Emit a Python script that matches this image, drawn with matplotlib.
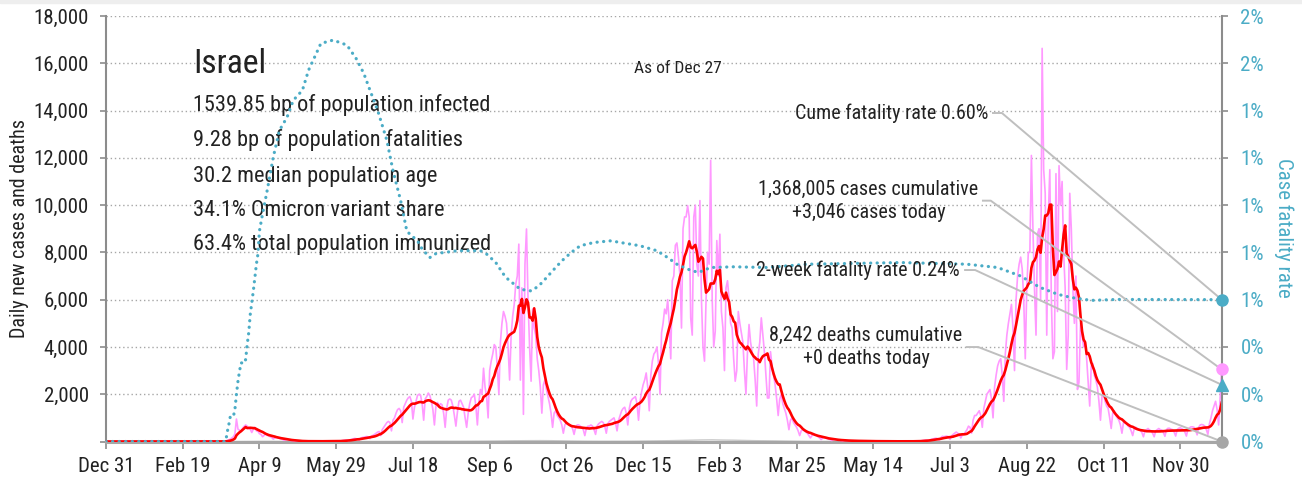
import numpy as np
import pandas as pd
import matplotlib
matplotlib.use("Agg")
import matplotlib.pyplot as plt
import matplotlib.dates as mdates
from matplotlib.ticker import FuncFormatter, PercentFormatter
from matplotlib.patches import Rectangle
from matplotlib import font_manager as fm

# ---------------------------------------------------------------- data
START_DATE = "2019-12-31"

# Daily new cases, one row per week (Tue .. Mon)
DAILY_CASES_BY_WEEK = [
    [0, 0, 0, 0, 0, 0, 0], [0, 0, 0, 0, 0, 0, 0], [0, 0, 0, 0, 0, 0, 0],
    [0, 0, 0, 0, 0, 0, 0], [0, 0, 0, 0, 0, 0, 0], [0, 0, 0, 0, 0, 0, 0],
    [0, 0, 0, 0, 0, 0, 0], [0, 0, 0, 0, 0, 0, 0], [0, 0, 0, 0, 0, 0, 0],
    [0, 0, 0, 0, 0, 0, 0], [0, 1, 2, 3, 2, 4, 6],
    [5, 20, 40, 70, 100, 150, 200],
    [320, 950, 520, 480, 430, 560, 640],
    [700, 650, 560, 520, 380, 520, 600],
    [450, 430, 330, 300, 200, 260, 330],
    [260, 240, 200, 170, 100, 150, 180],
    [150, 130, 110, 90, 50, 70, 90],
    [60, 50, 40, 30, 15, 25, 30],
    [20, 15, 15, 10, 5, 10, 15],
    [15, 10, 10, 8, 4, 10, 12],
    [15, 15, 12, 10, 5, 12, 15],
    [20, 20, 18, 15, 8, 20, 25],
    [40, 50, 60, 50, 30, 70, 90],
    [110, 130, 120, 100, 60, 140, 170],
    [180, 200, 210, 190, 120, 230, 260],
    [300, 350, 400, 420, 250, 500, 600],
    [700, 800, 850, 800, 450, 900, 1000],
    [1200, 1350, 1400, 1300, 800, 1450, 1600],
    [1750, 1850, 1900, 1700, 950, 1450, 1700],
    [1950, 2000, 1950, 1600, 900, 1800, 1900],
    [2050, 1950, 1700, 1350, 700, 1500, 1650],
    [1500, 1600, 1550, 1200, 600, 1400, 1750],
    [1800, 1750, 1500, 1100, 650, 1250, 1700],
    [1750, 1600, 1450, 1000, 600, 1200, 1600],
    [1850, 1900, 2000, 1500, 700, 1700, 2200],
    [2000, 3100, 2300, 1900, 1000, 3000, 3400],
    [3700, 4100, 4000, 3100, 2000, 4200, 5000],
    [5500, 5300, 5000, 4000, 2600, 4500, 5300],
    [5800, 6660, 7000, 8350, 2600, 6500, 1150],
    [7500, 8990, 6000, 4000, 2550, 5600, 4800],
    [4500, 3500, 3000, 2300, 1200, 2400, 2600],
    [2200, 1900, 1600, 1200, 600, 1200, 1300],
    [1100, 1000, 900, 700, 350, 700, 800],
    [750, 700, 650, 550, 300, 600, 700],
    [700, 650, 600, 500, 250, 550, 650],
    [650, 700, 650, 500, 300, 650, 750],
    [800, 850, 800, 650, 350, 750, 850],
    [900, 950, 1000, 800, 450, 900, 1100],
    [1300, 1400, 1450, 1200, 700, 1400, 1700],
    [1800, 1850, 1900, 1600, 900, 1700, 2100],
    [2400, 2600, 2900, 2300, 1300, 2800, 3400],
    [3700, 3800, 4000, 3300, 2000, 4600, 5000],
    [5600, 5400, 6000, 5000, 3500, 6800, 7000],
    [8300, 8400, 7800, 7000, 4800, 9000, 9500],
    [9500, 9980, 9500, 5230, 4500, 9500, 10000],
    [7500, 7000, 10190, 6000, 4000, 3400, 6000],
    [8000, 7500, 11890, 6000, 4000, 4670, 8500],
    [7000, 8770, 5500, 4800, 3000, 6500, 6800],
    [6000, 5000, 4800, 3500, 2550, 3000, 5500],
    [5000, 4600, 4200, 3000, 2000, 3800, 4950],
    [4200, 3800, 3500, 2600, 1500, 3700, 4200],
    [5230, 4500, 3800, 2800, 1840, 1840, 3800],
    [3200, 2800, 2400, 1800, 1100, 1800, 2000],
    [1600, 1400, 1200, 900, 500, 900, 1000],
    [800, 700, 600, 450, 250, 450, 500],
    [450, 400, 350, 250, 150, 250, 300],
    [280, 250, 200, 150, 80, 150, 170],
    [150, 120, 100, 80, 40, 80, 90],
    [70, 60, 50, 40, 20, 40, 50],
    [40, 35, 30, 25, 10, 25, 30],
    [30, 25, 20, 15, 8, 15, 20],
    [20, 15, 15, 10, 5, 10, 15],
    [15, 12, 10, 8, 4, 10, 12],
    [10, 8, 8, 6, 3, 8, 10],
    [10, 10, 8, 6, 3, 10, 12],
    [10, 12, 15, 15, 8, 20, 30],
    [40, 50, 60, 50, 30, 70, 100],
    [110, 130, 140, 110, 60, 160, 220],
    [200, 220, 230, 170, 90, 230, 300],
    [350, 400, 350, 300, 150, 280, 300],
    [400, 500, 650, 600, 350, 900, 1100],
    [1100, 1200, 1300, 1100, 600, 1400, 1700],
    [2000, 2100, 2200, 1800, 1000, 2300, 2800],
    [3200, 3400, 3500, 2800, 1700, 3700, 4500],
    [5000, 5400, 5800, 4800, 3000, 6000, 7000],
    [7500, 7800, 7300, 6000, 3500, 6500, 8000],
    [8000, 12100, 9000, 6500, 4500, 8800, 9000],
    [6000, 16630, 11500, 10500, 4500, 9500, 11500],
    [6000, 3500, 3800, 11330, 5500, 11670, 10000],
    [11000, 8000, 6500, 3050, 4500, 10500, 9000],
    [6500, 5000, 7000, 2200, 2500, 5000, 4500],
    [4000, 4200, 3500, 2500, 1500, 3200, 3300],
    [2800, 2600, 2300, 1700, 900, 1900, 2000],
    [1700, 1500, 1400, 1000, 550, 1200, 1300],
    [1100, 1000, 900, 700, 350, 800, 850],
    [750, 650, 600, 450, 250, 550, 600],
    [550, 500, 480, 380, 200, 450, 500],
    [550, 480, 450, 350, 200, 450, 500],
    [550, 500, 480, 380, 220, 500, 560],
    [560, 520, 500, 400, 230, 500, 560],
    [580, 540, 500, 400, 230, 520, 580],
    [620, 620, 600, 480, 280, 600, 700],
    [720, 700, 650, 500, 300, 750, 1000],
    [1300, 1500, 1700, 1350, 700, 1900, 3046],
]

# Average daily deaths for each of the weeks above
WEEKLY_DEATHS = [
    0, 0, 0, 0, 0, 0, 0, 0, 0, 0, 0, 0,
    1, 4, 8, 8, 5, 3, 1, 1, 1, 1, 1, 1, 1, 2, 4, 7, 9, 10, 12, 12, 11, 12,
    14, 17, 22, 28, 33, 36, 38, 35, 28, 20, 15, 12, 11, 12, 13, 16, 22, 28,
    35, 45, 55, 65, 70, 60, 55, 45, 35, 30, 25, 18, 12, 8, 5, 3, 1, 1, 1, 1,
    1, 0, 0, 1, 1, 1, 2, 3, 5, 8, 12, 18, 22, 25, 28, 30, 28, 25, 22, 18,
    14, 10, 7, 5, 4, 3, 3, 2, 2, 2, 2, 1,
]

# Cumulative case fatality rate (%) by day since the start date
CFR_DAYS = [0, 78, 79, 80, 81, 83, 84, 85, 86, 87, 88, 90, 91, 92, 93, 94,
            96, 97, 98, 99, 100, 102, 105, 109, 113, 118, 122, 128, 132, 136,
            140, 148, 157, 163, 168, 172, 177, 183, 187, 192, 196, 198, 203,
            206, 211, 215, 229, 244, 248, 254, 259, 262, 270, 277, 282, 287,
            292, 297, 303, 309, 318, 329, 335, 348, 359, 366, 372, 379, 386,
            394, 409, 431, 457, 518, 561, 581, 596, 605, 609, 620, 629, 642,
            659, 727]
CFR_PCT = [0.0, 0.0, 0.04, 0.07, 0.106, 0.106, 0.135, 0.20, 0.255, 0.297,
           0.333, 0.330, 0.347, 0.410, 0.460, 0.538, 0.637, 0.693, 0.750,
           0.793, 0.891, 0.962, 1.061, 1.203, 1.316, 1.372, 1.443, 1.486,
           1.571, 1.627, 1.684, 1.698, 1.677, 1.620, 1.557, 1.486, 1.401,
           1.274, 1.146, 1.019, 0.891, 0.877, 0.849, 0.814, 0.778, 0.795,
           0.807, 0.807, 0.793, 0.757, 0.708, 0.686, 0.644, 0.637, 0.658,
           0.693, 0.729, 0.764, 0.799, 0.828, 0.842, 0.849, 0.842, 0.828,
           0.807, 0.778, 0.750, 0.729, 0.715, 0.736, 0.739, 0.736, 0.750,
           0.757, 0.750, 0.736, 0.700, 0.665, 0.651, 0.623, 0.609, 0.597,
           0.601, 0.600]

COUNTRY = "Israel"
STATS = [
    "1539.85 bp of population infected",
    "9.28 bp of population fatalities",
    "30.2 median population age",
    "34.1% Omicron variant share",
    "63.4% total population immunized",
]
AS_OF = "As of Dec 27"
CUM_CASES = 1368005
CASES_TODAY = 3046
CUM_DEATHS = 8242
DEATHS_TODAY = 0
CUME_CFR = 0.0060
TWO_WEEK_CFR = 0.0024

LEFT_MAX = 18000
RIGHT_MAX = 0.018
TICK_EVERY_DAYS = 50

# ---------------------------------------------------------------- style
names = {f.name for f in fm.fontManager.ttflist}
FONT = "Liberation Sans"
for cand in ["Liberation Sans Narrow", "Roboto Condensed", "Open Sans Condensed"]:
    if cand in names:
        FONT = cand
        break
plt.rcParams["font.family"] = [FONT, "DejaVu Sans"]

PINK = "#FF99FF"
RED = "#FF0000"
TEAL = "#4BACC6"
GREY_LINE = "#BFBFBF"
SPINE = "#8C8C8C"
TEXT = "#222222"

# ---------------------------------------------------------------- series
cases = np.array(DAILY_CASES_BY_WEEK, dtype=float).ravel()
n_days = cases.size
dates = pd.date_range(START_DATE, periods=n_days, freq="D")
avg7 = pd.Series(cases).rolling(7, min_periods=1).mean().to_numpy()
week_dates = dates[3::7]
cfr_dates = pd.Timestamp(START_DATE) + pd.to_timedelta(CFR_DAYS, unit="D")
cfr = np.array(CFR_PCT) / 100.0
scale = LEFT_MAX / RIGHT_MAX

# ---------------------------------------------------------------- figure
fig = plt.figure(figsize=(13.02, 4.82), dpi=100)
fig.add_artist(Rectangle((0, 1 - 3 / 482), 1, 3 / 482, transform=fig.transFigure,
                         color="#EEEEEE", zorder=0))
ax = fig.add_axes([106 / 1302, 1 - 441.5 / 482, 1115.7 / 1302, 425.5 / 482])
ax2 = ax.twinx()

ax.plot(week_dates, WEEKLY_DEATHS, color="#C8C8C8", lw=1.0, zorder=2)
ax.plot(dates, cases, color=PINK, lw=1.2, zorder=3)
ax.plot(dates, avg7, color=RED, lw=1.9, zorder=4)

ax2.plot(cfr_dates, cfr, color=TEAL, lw=2.3, linestyle=(0, (0.05, 2.0)),
         dash_capstyle="round", zorder=3)

ax.set_xlim(dates[0], dates[-1])
ax.set_ylim(0, LEFT_MAX)
ax2.set_ylim(0, RIGHT_MAX)

ax.set_yticks(np.arange(0, LEFT_MAX + 1, 2000))
ax2.set_yticks(np.arange(0, LEFT_MAX + 1, 2000) / scale)
ax.yaxis.set_major_formatter(
    FuncFormatter(lambda v, p: "" if v == 0 else f"{int(round(v)):,}"))
ax2.yaxis.set_major_formatter(PercentFormatter(xmax=1, decimals=0))
ax.set_xticks(dates[::TICK_EVERY_DAYS])
ax.xaxis.set_major_formatter(mdates.DateFormatter("%b %-d"))

ax.yaxis.grid(True, linestyle=(0, (1, 2)), color="#A6A6A6", lw=1.0)
ax.set_axisbelow(True)

for s in ("top", "right"):
    ax.spines[s].set_visible(False)
for s in ("top", "left", "bottom"):
    ax2.spines[s].set_visible(False)
ax.spines["left"].set_color(SPINE)
ax.spines["left"].set_linewidth(1.5)
ax.spines["bottom"].set_color("#A6A6A6")
ax.spines["bottom"].set_linewidth(2.2)
ax2.spines["right"].set_color(SPINE)
ax2.spines["right"].set_linewidth(1.5)

ax.tick_params(axis="y", direction="out", length=4.5, width=1.2, color=SPINE,
               labelsize=15, labelcolor=TEXT, pad=8)
ax.tick_params(axis="x", direction="out", length=5, width=1.2, color=SPINE,
               labelsize=15, labelcolor=TEXT, pad=6)
ax2.tick_params(axis="y", direction="out", length=4.5, width=1.2, color=SPINE,
                labelsize=15, labelcolor=TEAL, pad=9)

ax.text(-0.0771, 0.50, "Daily new cases and deaths", transform=ax.transAxes,
        rotation=90, ha="center", va="center", fontsize=14.5, color=TEXT)
ax.text(1.0554, 0.502, "Case fatality rate", transform=ax.transAxes,
        rotation=270, ha="center", va="center", fontsize=15, color=TEAL)

# ---------------------------------------------------------------- text block
ax.text(0.078, 0.866, COUNTRY, transform=ax.transAxes, fontsize=24,
        color=TEXT, va="baseline", ha="left")
for fy, line in zip([0.777, 0.695, 0.611, 0.531, 0.450], STATS):
    ax.text(0.078, fy, line, transform=ax.transAxes, fontsize=16,
            color=TEXT, va="baseline", ha="left")
ax.text(0.5127, 0.866, AS_OF, transform=ax.transAxes, fontsize=12.5,
        color=TEXT, va="baseline", ha="center")

# ---------------------------------------------------------------- callouts
x0, x1 = ax2.get_xlim()
end_x = mdates.date2num(dates[-1])

def fx(f):
    return x0 + f * (x1 - x0)

callouts = [
    # text, text x, text y, ha, connector start, elbow, marker value (right units)
    (f"Cume fatality rate {CUME_CFR * 100:.2f}%", 0.7905, 0.772, "right",
     0.795, 0.803, CUME_CFR),
    (f"{CUM_CASES:,} cases cumulative\n+{CASES_TODAY:,} cases today", 0.6834,
     0.566, "center", 0.786, 0.793, CASES_TODAY / scale),
    (f"2-week fatality rate {TWO_WEEK_CFR * 100:.2f}%", 0.7654, 0.403, "right",
     0.770, 0.779, TWO_WEEK_CFR),
    (f"{CUM_DEATHS:,} deaths cumulative\n+{DEATHS_TODAY:,} deaths today", 0.6812,
     0.222, "center", 0.7714, 0.7818, DEATHS_TODAY / scale),
]
for text, tx, ty, ha, sx, ex, mval in callouts:
    ax2.text(tx, ty, text, transform=ax.transAxes, fontsize=14.5, color=TEXT,
             ha=ha, va="center", multialignment="center", linespacing=1.25,
             zorder=6)
    yline = ty * RIGHT_MAX
    ax2.plot([fx(sx), fx(ex), end_x], [yline, yline, mval], color=GREY_LINE,
             lw=1.4, zorder=5, clip_on=False)

ax2.plot([end_x], [CUME_CFR], "o", color=TEAL, ms=8, zorder=7, clip_on=False)
ax2.plot([end_x], [CASES_TODAY / scale], "o", color=PINK, ms=8, zorder=7,
         clip_on=False)
ax2.plot([end_x], [TWO_WEEK_CFR], "^", color=TEAL, ms=9, zorder=7, clip_on=False)
ax2.plot([end_x], [DEATHS_TODAY / scale], "o", color="#A6A6A6", ms=8, zorder=7,
         clip_on=False)
ax2.set_xlim(x0, x1)

fig.savefig("out.png", dpi=100)
